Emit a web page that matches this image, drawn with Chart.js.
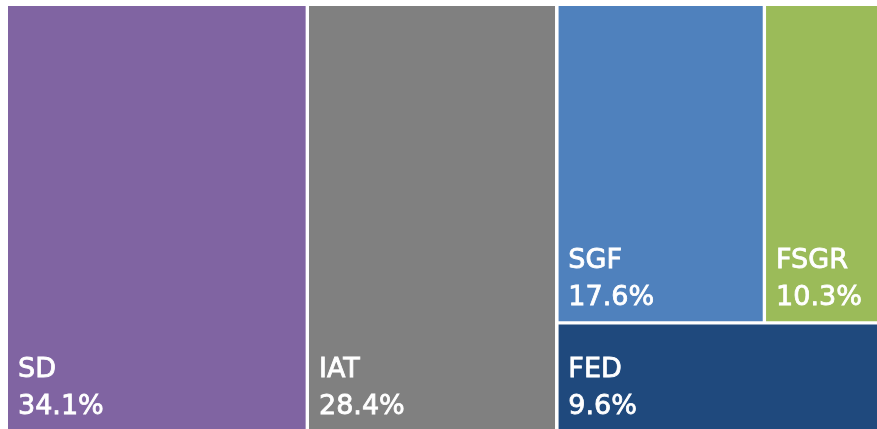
<!DOCTYPE html>
<html>
<head>
<meta charset="utf-8">
<script src="https://cdn.jsdelivr.net/npm/chart.js@4.4.0/dist/chart.umd.min.js"></script>
<style>
  html, body { margin: 0; padding: 0; background: #fff; }
  #wrap { width: 877px; height: 429px; position: relative; }
</style>
</head>
<body>
<div id="wrap"><canvas id="treemap"></canvas></div>
<script>
(function () {
    'use strict';

    // data
    var categories = ['SD', 'IAT', 'SGF', 'FSGR', 'FED'];
    var shares = [34.1, 28.4, 17.6, 10.3, 9.6];
    var valueLabels = ['34.1%', '28.4%', '17.6%', '10.3%', '9.6%'];
    var colors = ['#8064A2', '#808080', '#4F81BD', '#9BBB59', '#1F497D'];

    var GAP = 1.6; // half of the white gutter, px

    // simple slice layout: SD | IAT | [ (SGF | FSGR) / FED ]
    function layout() {
        var total = shares.reduce(function (a, b) { return a + b; }, 0);
        var rects = [];
        var x = 0;
        rects[0] = { x0: 0, x1: shares[0] / total * 100, y0: 0, y1: 100 };
        x = rects[0].x1;
        rects[1] = { x0: x, x1: x + shares[1] / total * 100, y0: 0, y1: 100 };
        x = rects[1].x1;
        var rest = shares[2] + shares[3] + shares[4];
        var topRow = shares[2] + shares[3];
        var split = topRow / rest * 100;
        var w = 100 - x;
        rects[2] = { x0: x, x1: x + shares[2] / topRow * w, y0: 0, y1: split };
        rects[3] = { x0: rects[2].x1, x1: 100, y0: 0, y1: split };
        rects[4] = { x0: x, x1: 100, y0: split, y1: 100 };
        return rects;
    }

    var rects = layout();

    // full treemap is 878 x 426 px, starting at (8, 6); the picture crops it
    var FULL_W = 878, FULL_H = 426, LEFT = 8, TOP = 6;
    var xMax = (877 - LEFT) / FULL_W * 100;
    var yMax = (429 - TOP) / FULL_H * 100;
    var gx = GAP / FULL_W * 100, gy = GAP / FULL_H * 100;

    var datasets = rects.map(function (r, i) {
        return {
            label: categories[i],
            data: [{ x: r.x0 + (r.x0 > 0 ? gx : 0), y: r.y0 + (r.y0 > 0 ? gy : 0) },
                   { x: r.x1 - gx, y: r.y0 + (r.y0 > 0 ? gy : 0) }],
            showLine: true,
            borderWidth: 0,
            borderColor: colors[i],
            backgroundColor: colors[i],
            pointRadius: 0,
            pointHoverRadius: 0,
            fill: { target: { value: r.y1 - gy } }
        };
    });

    var labelPlugin = {
        id: 'cellLabels',
        afterDatasetsDraw: function (chart) {
            var c = chart.ctx, xs = chart.scales.x, ys = chart.scales.y;
            c.save();
            c.fillStyle = '#ffffff';
            c.strokeStyle = '#ffffff';
            c.lineWidth = 0.8;
            c.font = '27px "DejaVu Sans"';
            c.textBaseline = 'alphabetic';
            rects.forEach(function (r, i) {
                var left = xs.getPixelForValue(r.x0 + (r.x0 > 0 ? gx : 0));
                var bottom = Math.min(ys.getPixelForValue(r.y1 - gy), 430);
                [[categories[i], bottom - 53], [valueLabels[i], bottom - 16]].forEach(function (t) {
                    c.fillText(t[0], left + 10, t[1]);
                    c.strokeText(t[0], left + 10, t[1]);
                });
            });
            c.restore();
        }
    };

    new Chart(document.getElementById('treemap'), {
        type: 'scatter',
        data: { datasets: datasets },
        options: {
            responsive: true,
            maintainAspectRatio: false,
            animation: false,
            layout: { padding: { left: LEFT, top: TOP, right: 0, bottom: 0 } },
            plugins: { legend: { display: false }, tooltip: { enabled: false } },
            scales: {
                x: { type: 'linear', min: 0, max: xMax, display: false },
                y: { type: 'linear', min: 0, max: yMax, reverse: true, display: false }
            }
        },
        plugins: [labelPlugin]
    });
})();
</script>
</body>
</html>
